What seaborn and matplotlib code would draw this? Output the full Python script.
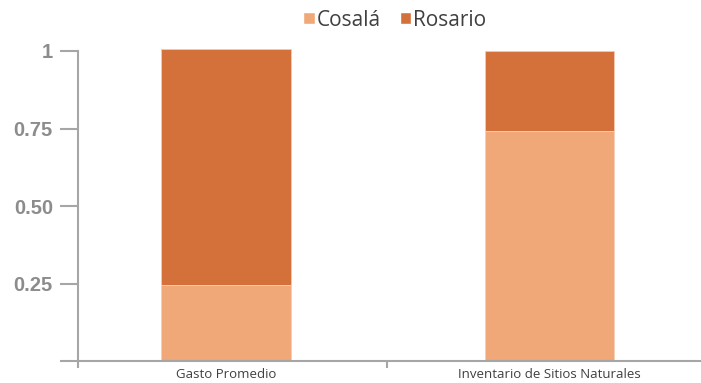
import matplotlib
matplotlib.use("Agg")
import matplotlib.pyplot as plt
import seaborn as sns
import numpy as np
import pandas as pd
from matplotlib.patches import Patch

categories = ["Gasto Promedio", "Inventario de Sitios Naturales"]
cosala = [0.245, 0.743]
rosario = [0.762, 0.257]
y_ticks = [0, 0.25, 0.50, 0.75, 1]
y_tick_labels = ["", "0.25", "0.50", "0.75", "1"]

COLOR_COSALA = "#F0A878"
COLOR_ROSARIO = "#D4713A"
AXIS_GREY = "#A6A6A6"

sns.set_theme(style="white")
plt.rcParams["font.family"] = ["Open Sans", "DejaVu Sans"]

df = pd.DataFrame({
    "categoria": categories,
    "Cosalá": cosala,
    "Rosario": rosario,
})
df["total"] = df["Cosalá"] + df["Rosario"]

fig = plt.figure(figsize=(7.01, 3.83), dpi=100)
ax = fig.add_axes([78 / 701, 22 / 383, 622 / 701, 310 / 383])

# Stacked bars: full height in Rosario colour, Cosalá share drawn over the base
sns.barplot(data=df, x="categoria", y="total", color=COLOR_ROSARIO,
            saturation=1, width=0.4, ax=ax, edgecolor="#F3C9AE", linewidth=0.6)
sns.barplot(data=df, x="categoria", y="Cosalá", color=COLOR_COSALA,
            saturation=1, width=0.4, ax=ax, edgecolor="#F7D6C0", linewidth=0.6)
for p in ax.patches:
    p.set_clip_on(False)

ax.set_xlim(-0.4575, 1.465)
ax.set_ylim(0, 1)
ax.set_xlabel("")
ax.set_ylabel("")

# y axis
ax.set_yticks(y_ticks)
ax.set_yticklabels(y_tick_labels, fontsize=14.5, fontweight="bold",
                   color="#8C8C8C", family=["Liberation Sans", "DejaVu Sans"])
ax.tick_params(axis="y", direction="out", length=13, width=1.5,
               color=AXIS_GREY, pad=5, left=True)

# x axis: category labels under bars, boundary tick marks between categories
ax.set_xticks([0, 1])
ax.set_xticklabels(categories, fontsize=9.5, color="#404040")
ax.tick_params(axis="x", length=0, pad=5)
ax.set_xticks([-0.4575, 0.4977], minor=True)
ax.tick_params(axis="x", which="minor", direction="out", length=5,
               width=1.5, color=AXIS_GREY, bottom=True)

for side in ["top", "right"]:
    ax.spines[side].set_visible(False)
for side in ["left", "bottom"]:
    ax.spines[side].set_color(AXIS_GREY)
    ax.spines[side].set_linewidth(1.5)

handles = [Patch(facecolor=COLOR_COSALA, label="Cosalá"),
           Patch(facecolor=COLOR_ROSARIO, label="Rosario")]
fig.legend(handles=handles, loc="center", bbox_to_anchor=(395 / 701, 1 - 20 / 383),
           ncol=2, frameon=False, fontsize=15, handlelength=0.55, handleheight=0.55,
           handletextpad=0.1, columnspacing=0.9, labelcolor="#404040")

fig.savefig("out.png", dpi=100)
